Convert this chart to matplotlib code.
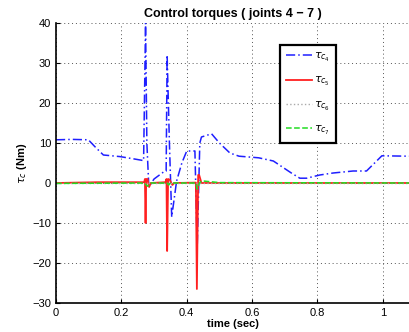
import matplotlib
matplotlib.use("Agg")
from matplotlib import pyplot as plt

# joint 4 (blue dash-dot)
t4 = [0, 0.05, 0.099, 0.12, 0.145, 0.196, 0.24, 0.268, 0.274, 0.278, 0.284,
      0.30, 0.333, 0.337, 0.340, 0.347, 0.354, 0.369, 0.385, 0.40, 0.425,
      0.432, 0.44, 0.445, 0.476, 0.50, 0.532, 0.56, 0.62, 0.665, 0.72, 0.746,
      0.767, 0.807, 0.848, 0.909, 0.95, 0.997, 1.08]
tau4 = [10.8, 10.9, 10.8, 9.0, 7.0, 6.6, 6.0, 5.6, 40.0, 10.0, -1.0,
        1.0, 3.0, 3.0, 32.0, 10.0, -8.5, 0.5, 5.0, 8.0, 8.0,
        -16.0, 10.0, 11.5, 12.3, 10.0, 7.5, 6.7, 6.3, 5.5, 2.5, 1.2,
        1.2, 2.0, 2.5, 3.0, 3.0, 6.8, 6.7]

# joint 5 (red solid)
t5 = [0, 0.13, 0.27, 0.272, 0.274, 0.276, 0.28, 0.285, 0.29, 0.335, 0.338,
      0.340, 0.343, 0.348, 0.356, 0.362, 0.428, 0.431, 0.435, 0.438, 0.445,
      0.5, 1.08]
tau5 = [0, 0.2, 0.2, 1.0, -10.0, 1.0, 1.0, -1.0, 0, 0.2, 1.0,
        -17.0, 1.0, 0.8, -0.5, 0, 0.1, -26.5, 2.0, 2.0, 0,
        0, 0]

# joint 6 (gray dotted)
t6 = [0, 0.5, 1.08]
tau6 = [0, 0, 0]

# joint 7 (green dashed)
t7 = [0, 0.27, 0.28, 0.29, 0.34, 0.345, 0.35, 0.428, 0.432, 0.44, 0.45,
      0.5, 1.08]
tau7 = [-0.1, 0, -0.8, 0, 0, -0.5, 0, 0, -1.5, 0.2, 0.5, 0.1, 0]

xticks = [0, 0.2, 0.4, 0.6, 0.8, 1]
yticks = [-30, -20, -10, 0, 10, 20, 30, 40]

plt.rcParams["font.family"] = ["Liberation Sans", "DejaVu Sans"]

fig = plt.figure(figsize=(4.09, 3.32), dpi=100)
ax = fig.add_axes([56 / 409, 29 / 332, 353 / 409, 280 / 332])

ax.plot(t4, tau4, color="#1f1fff", linestyle=(0, (6, 2, 1, 2)), linewidth=1.1, label=r"$\tau_{c_4}$")
ax.plot(t5, tau5, color="#ff2020", linestyle="-", linewidth=1.3, label=r"$\tau_{c_5}$")
ax.plot(t6, tau6, color="#aaaaaa", linestyle=":", linewidth=1.0, label=r"$\tau_{c_6}$")
ax.plot(t7, tau7, color="#22dd22", linestyle="--", linewidth=1.1, label=r"$\tau_{c_7}$")

ax.set_xlim(0, 1.08)
ax.set_ylim(-30, 40)
ax.set_xticks(xticks)
ax.set_xticklabels(["0", "0.2", "0.4", "0.6", "0.8", "1"])
ax.set_yticks(yticks)
ax.set_yticklabels(["\u221230", "\u221220", "\u221210", "0", "10", "20", "30", "40"])
ax.tick_params(labelsize=8, direction="in", length=3, width=0.8)
ax.grid(True, linestyle=(0, (1, 3)), color="#555555", linewidth=0.7)
ax.spines["right"].set_visible(False)
ax.spines["top"].set_visible(False)
ax.spines["left"].set_linewidth(1.2)
ax.spines["bottom"].set_linewidth(1.2)

ax.set_title("Control torques ( joints 4 \u2212 7 )", fontsize=9, fontweight="bold", pad=4)
ax.set_xlabel("time (sec)", fontsize=8, fontweight="bold", labelpad=1)
ax.set_ylabel(r"$\tau_c$ (Nm)", fontsize=8, fontweight="bold", labelpad=2)

leg = ax.legend(loc="upper left", bbox_to_anchor=(0.635, 0.921), fontsize=8,
                handlelength=2.3, labelspacing=1.0, borderpad=0.55,
                handletextpad=0.2, borderaxespad=0, fancybox=False, framealpha=1)
leg.get_frame().set_edgecolor("black")
leg.get_frame().set_linewidth(1.6)

fig.savefig("out.png", dpi=100)
